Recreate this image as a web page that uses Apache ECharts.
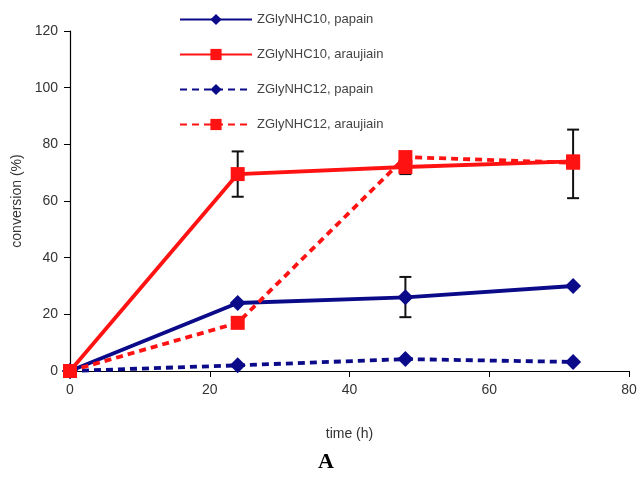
<!DOCTYPE html>
<html>
<head>
<meta charset="utf-8">
<script src="https://cdn.jsdelivr.net/npm/echarts@6/dist/echarts.min.js"></script>
<style>
html,body{margin:0;padding:0;background:#fff;}
#c{width:643px;height:477px;}
</style>
</head>
<body>
<div id="c"></div>
<script>
const times = [0, 24, 48, 72];
const seriesNames = ['ZGlyNHC10, papain', 'ZGlyNHC10, araujiain', 'ZGlyNHC12, papain', 'ZGlyNHC12, araujiain'];
const c10Papain = [0, 24, 26, 30];
const c10Araujiain = [0, 69.5, 72, 74];
const c12Papain = [0, 2, 4.2, 3.2];
const c12Araujiain = [0, 17, 75.5, 73.5];
// error bars: [time, low, high]
const errorBars = [
  [24, 61.5, 77.5],
  [48, 69.5, 74.5],
  [72, 61, 85.2],
  [48, 19, 33.2]
];
const xTicks = [0, 20, 40, 60, 80];
const yTicks = [0, 20, 40, 60, 80, 100, 120];

const BLUE = '#0b0b8a';
const RED = '#ff1212';

function pairs(vals){ return times.map((t,i)=>[t, vals[i]]); }

const chart = echarts.init(document.getElementById('c'));
function mkLine(name, vals, color, dashed, symbol, size){
  return {
    name, type:'line', data: pairs(vals), color,
    symbol, symbolSize: size,
    lineStyle:{color, width:3.8, type: dashed ? [7,5] : 'solid'},
    itemStyle:{color},
    z: 3
  };
}
chart.setOption({
  animation:false,
  backgroundColor:'#fff',
  textStyle:{fontFamily:'Liberation Sans, Arial, sans-serif'},
  grid:{left:70, right:14, top:31, bottom:106},
  legend:{
    orient:'vertical', left:174, top:8,
    itemWidth:72, itemHeight:14, itemGap:22,
    data: seriesNames,
    textStyle:{color:'#444', fontSize:13, fontFamily:'Liberation Sans, Arial, sans-serif'}
  },
  xAxis:{
    type:'value', min:0, max:80, interval:20,
    name:'time (h)', nameLocation:'middle', nameGap:56,
    nameTextStyle:{color:'#333', fontSize:14},
    axisLine:{show:true, onZero:false, lineStyle:{color:'#000', width:1.2}},
    axisTick:{show:true, inside:false, length:6, lineStyle:{color:'#000'}},
    axisLabel:{color:'#333', fontSize:14, margin:12, formatter:v=>xTicks.includes(v)?String(v):''},
    splitLine:{show:false}
  },
  yAxis:{
    type:'value', min:0, max:120, interval:20,
    name:'conversion (%)', nameLocation:'middle', nameGap:40, nameRotate:90,
    nameTextStyle:{color:'#333', fontSize:14},
    axisLine:{show:true, lineStyle:{color:'#000', width:1.2}},
    axisTick:{show:true, inside:false, length:6, lineStyle:{color:'#000'}},
    axisLabel:{color:'#333', fontSize:14, margin:12, formatter:v=>yTicks.includes(v)?String(v):''},
    splitLine:{show:false}
  },
  graphic:[{
    type:'text', left:318, top:451,
    style:{text:'A', font:'bold 22px "Liberation Serif", "Times New Roman", serif', fill:'#000'}
  }],
  series:[
    {
      type:'custom', name:'err', data: errorBars, z:2, silent:true,
      renderItem:function(params, api){
        const x = api.value(0);
        const lo = api.coord([x, api.value(1)]);
        const hi = api.coord([x, api.value(2)]);
        const w = 6;
        return {type:'group', children:[
          {type:'line', shape:{x1:lo[0], y1:lo[1], x2:hi[0], y2:hi[1]}, style:{stroke:'#111', lineWidth:2}},
          {type:'line', shape:{x1:lo[0]-w, y1:lo[1], x2:lo[0]+w, y2:lo[1]}, style:{stroke:'#111', lineWidth:2}},
          {type:'line', shape:{x1:hi[0]-w, y1:hi[1], x2:hi[0]+w, y2:hi[1]}, style:{stroke:'#111', lineWidth:2}}
        ]};
      }
    },
    mkLine(seriesNames[0], c10Papain, BLUE, false, 'diamond', 16),
    mkLine(seriesNames[1], c10Araujiain, RED, false, 'rect', 14),
    mkLine(seriesNames[2], c12Papain, BLUE, true, 'diamond', 16),
    mkLine(seriesNames[3], c12Araujiain, RED, true, 'rect', 14)
  ]
});
</script>
</body>
</html>
